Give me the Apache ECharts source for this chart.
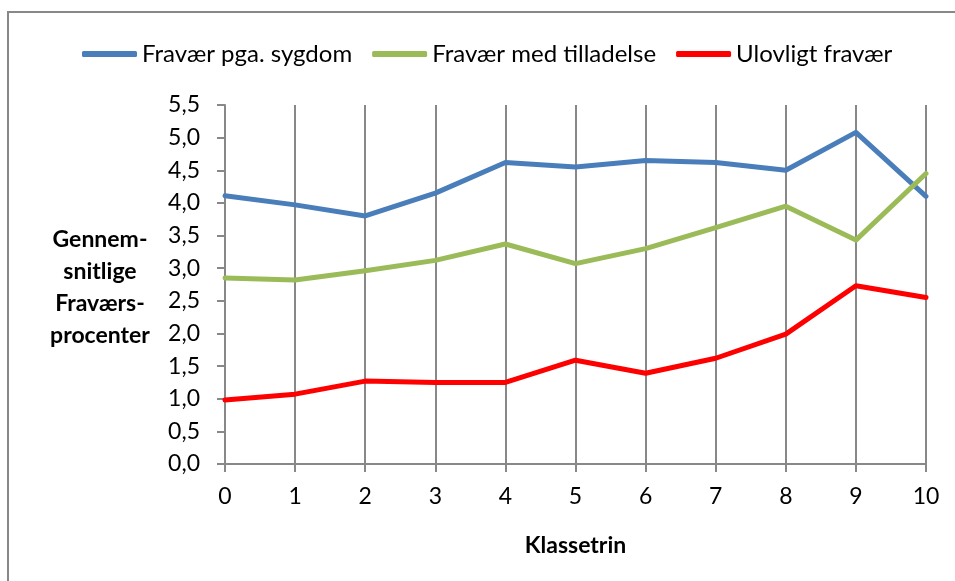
<!DOCTYPE html>
<html>
<head>
<meta charset="utf-8">
<script src="https://cdn.jsdelivr.net/npm/echarts@6/dist/echarts.min.js"></script>
<style>
html,body{margin:0;padding:0;background:#fff;}
#chart{width:955px;height:581px;}
</style>
</head>
<body>
<div id="chart"></div>
<script>
const categories = [0, 1, 2, 3, 4, 5, 6, 7, 8, 9, 10];
const sygdom = [4.11, 3.97, 3.80, 4.15, 4.62, 4.55, 4.65, 4.62, 4.50, 5.08, 4.10];
const tilladelse = [2.85, 2.82, 2.96, 3.12, 3.37, 3.07, 3.30, 3.62, 3.95, 3.43, 4.45];
const ulovligt = [0.98, 1.07, 1.27, 1.25, 1.25, 1.59, 1.39, 1.62, 1.99, 2.73, 2.55];
const seriesNames = ['Fravær pga. sygdom', 'Fravær med tilladelse', 'Ulovligt fravær'];
const colors = ['#4A7EBB', '#9BBB59', '#FF0000'];
const yTicks = { min: 0, max: 5.5, interval: 0.5 };
const xAxisTitle = 'Klassetrin';
const yAxisTitle = 'Gennem-\nsnitlige\nFraværs-\nprocenter';

const FONT = 'Lato';
const chart = echarts.init(document.getElementById('chart'));
const allData = [sygdom, tilladelse, ulovligt];

chart.setOption({
  animation: false,
  backgroundColor: '#fff',
  textStyle: { fontFamily: FONT },
  grid: { left: 225, right: 29, top: 105, bottom: 117, containLabel: false },
  legend: {
    left: 77, top: 37,
    itemWidth: 55, itemHeight: 6, itemGap: 20,
    icon: 'roundRect',
    textStyle: { fontFamily: FONT, fontSize: 24, color: '#000', padding: [0,0,0,0] },
    data: seriesNames
  },
  xAxis: {
    type: 'value', min: 0, max: 10, interval: 1,
    name: xAxisTitle, nameLocation: 'middle', nameGap: 70,
    nameTextStyle: { fontFamily: FONT, fontSize: 23, fontWeight: 'bold', color: '#000' },
    axisLine: { lineStyle: { color: '#888', width: 2 } },
    axisTick: { show: true, length: 8, lineStyle: { color: '#888', width: 2 } },
    axisLabel: { fontFamily: FONT, fontSize: 23, color: '#000', margin: 21 },
    splitLine: { show: true, lineStyle: { color: '#888', width: 2 } }
  },
  yAxis: {
    type: 'value', min: yTicks.min, max: yTicks.max, interval: yTicks.interval,
    axisLine: { show: true, lineStyle: { color: '#888', width: 2 } },
    axisTick: { show: true, length: 8, lineStyle: { color: '#888', width: 2 } },
    axisLabel: { fontFamily: FONT, fontSize: 23, color: '#000', margin: 25,
      formatter: v => v.toFixed(1).replace('.', ',') },
    splitLine: { show: false }
  },
  graphic: [
    { type: 'rect', shape: { x: 8, y: 12, width: 1000, height: 700 },
      style: { fill: 'none', stroke: '#888', lineWidth: 2 }, silent: true, z: -10 },
    { type: 'text', x: 100, y: 288,
      style: { text: yAxisTitle, fontFamily: FONT, fontSize: 23, fontWeight: 'bold',
        fill: '#000', align: 'center', verticalAlign: 'middle', lineHeight: 32 } }
  ],
  series: seriesNames.map((name, i) => ({
    name, type: 'line',
    data: categories.map((c, j) => [c, allData[i][j]]),
    showSymbol: false, symbol: 'none',
    lineStyle: { color: colors[i], width: 5, cap: 'round', join: 'round' },
    itemStyle: { color: colors[i] }
  }))
});
</script>
</body>
</html>
